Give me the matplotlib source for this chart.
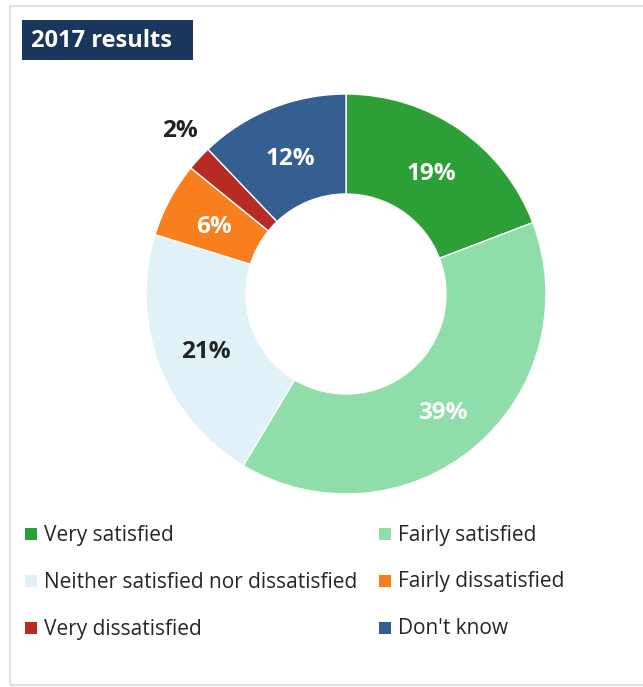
import numpy as np
import matplotlib.pyplot as plt
from matplotlib.patches import Rectangle

plt.rcParams['font.family'] = ['Open Sans', 'DejaVu Sans']

# survey results
categories = ['Very satisfied', 'Fairly satisfied', 'Neither satisfied nor dissatisfied',
              'Fairly dissatisfied', 'Very dissatisfied', "Don't know"]
values = [19, 39, 21, 6, 2, 12]
colors = ['#2ca036', '#8fdda8', '#e0f1f8', '#f97f1e', '#b82a24', '#365f91']
label_colors = ['white', 'white', '#222222', 'white', '#222222', 'white']

W, H = 643, 687
fig = plt.figure(figsize=(W / 100, H / 100), dpi=100)

# outer frame
fig.patches.append(Rectangle((10 / W, 2 / H), 640 / W, 679 / H, transform=fig.transFigure,
                             facecolor='none', edgecolor='#e2e2e2', linewidth=1.5, zorder=-1))

# title box
fig.patches.append(Rectangle((22 / W, 1 - 60 / H), 171 / W, 40 / H, transform=fig.transFigure,
                             facecolor='#1b365d', edgecolor='none', zorder=1))
fig.text(31 / W, 1 - 41 / H, '2017 results', color='white', fontsize=17,
         fontweight='bold', va='center', ha='left')

# donut
ax = fig.add_axes([(346 - 200) / W, (H - 494) / H, 400 / W, 400 / H])
wedges, _ = ax.pie(values, colors=colors, startangle=90, counterclock=False, radius=1,
                   wedgeprops=dict(width=0.5, edgecolor='white', linewidth=1))
ax.set_xlim(-1, 1)
ax.set_ylim(-1, 1)
ax.set_aspect('equal')
ax.axis('off')

for w, v, lc in zip(wedges, values, label_colors):
    mid = np.deg2rad((w.theta1 + w.theta2) / 2)
    if v > 3:
        x, y = 0.75 * np.cos(mid), 0.75 * np.sin(mid) - 0.02
    else:
        x, y = 1.16 * np.cos(mid) + 0.02, 1.16 * np.sin(mid) + 0.03
    ax.text(x, y, f'{v}%', color=lc, fontsize=17.5,
            fontweight='bold', ha='center', va='center')

# legend in two columns
for i, (cat, col) in enumerate(zip(categories, colors)):
    x = 25 if i % 2 == 0 else 379
    y = 534 + (i // 2) * 47
    fig.patches.append(Rectangle((x / W, 1 - (y + 6) / H), 12 / W, 12 / H,
                                 transform=fig.transFigure, facecolor=col, edgecolor='none'))
    fig.text((x + 19) / W, 1 - (y + 1) / H, cat, color='#262626', fontsize=15,
             va='center', ha='left')

fig.savefig('out.png', dpi=100)
